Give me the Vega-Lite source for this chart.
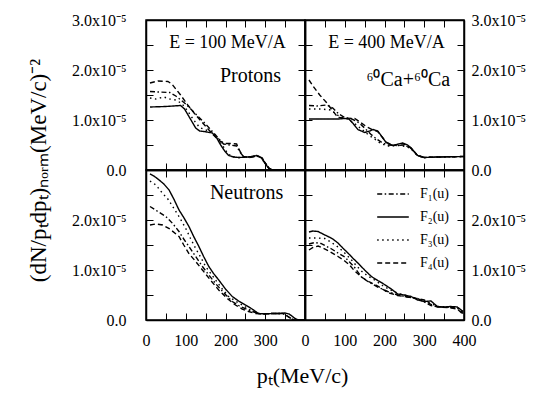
{
  "$schema": "https://vega.github.io/schema/vega-lite/v6.json",
  "background": "white",
  "padding": {"left": 26, "top": 11, "right": 5, "bottom": 5},
  "columns": 2,
  "spacing": 0,
  "bounds": "flush",
  "resolve": {"scale": {"strokeDash": "independent"}, "legend": {"strokeDash": "independent"}},
  "datasets": {
    "p100": [
      {"f":"F1","pt":10,"v":1.57e-5},{"f":"F1","pt":30,"v":1.56e-5},{"f":"F1","pt":60,"v":1.55e-5},{"f":"F1","pt":75,"v":1.48e-5},{"f":"F1","pt":100,"v":1.32e-5},{"f":"F1","pt":125,"v":1.12e-5},{"f":"F1","pt":150,"v":0.92e-5},{"f":"F1","pt":175,"v":0.70e-5},{"f":"F1","pt":195,"v":0.52e-5},{"f":"F1","pt":210,"v":0.50e-5},{"f":"F1","pt":228,"v":0.48e-5},{"f":"F1","pt":236,"v":0.36e-5},{"f":"F1","pt":245,"v":0.27e-5},{"f":"F1","pt":260,"v":0.25e-5},{"f":"F1","pt":279,"v":0.28e-5},{"f":"F1","pt":292,"v":0.24e-5},{"f":"F1","pt":300,"v":0.14e-5},{"f":"F1","pt":310,"v":0.03e-5},{"f":"F1","pt":318,"v":0},{"f":"F1","pt":400,"v":0},
      {"f":"F2","pt":10,"v":1.26e-5},{"f":"F2","pt":50,"v":1.27e-5},{"f":"F2","pt":87,"v":1.29e-5},{"f":"F2","pt":97,"v":1.22e-5},{"f":"F2","pt":108,"v":1.07e-5},{"f":"F2","pt":125,"v":0.84e-5},{"f":"F2","pt":135,"v":0.78e-5},{"f":"F2","pt":146,"v":0.77e-5},{"f":"F2","pt":167,"v":0.74e-5},{"f":"F2","pt":178,"v":0.64e-5},{"f":"F2","pt":187,"v":0.51e-5},{"f":"F2","pt":198,"v":0.38e-5},{"f":"F2","pt":208,"v":0.29e-5},{"f":"F2","pt":220,"v":0.26e-5},{"f":"F2","pt":233,"v":0.25e-5},{"f":"F2","pt":258,"v":0.26e-5},{"f":"F2","pt":279,"v":0.29e-5},{"f":"F2","pt":290,"v":0.25e-5},{"f":"F2","pt":296,"v":0.17e-5},{"f":"F2","pt":308,"v":0.04e-5},{"f":"F2","pt":315,"v":0},{"f":"F2","pt":400,"v":0},
      {"f":"F3","pt":10,"v":1.44e-5},{"f":"F3","pt":25,"v":1.42e-5},{"f":"F3","pt":45,"v":1.46e-5},{"f":"F3","pt":60,"v":1.42e-5},{"f":"F3","pt":75,"v":1.40e-5},{"f":"F3","pt":90,"v":1.33e-5},{"f":"F3","pt":105,"v":1.18e-5},{"f":"F3","pt":120,"v":1.00e-5},{"f":"F3","pt":135,"v":0.85e-5},{"f":"F3","pt":150,"v":0.80e-5},{"f":"F3","pt":167,"v":0.76e-5},{"f":"F3","pt":180,"v":0.64e-5},{"f":"F3","pt":190,"v":0.52e-5},{"f":"F3","pt":205,"v":0.34e-5},{"f":"F3","pt":215,"v":0.27e-5},{"f":"F3","pt":233,"v":0.25e-5},{"f":"F3","pt":258,"v":0.26e-5},{"f":"F3","pt":279,"v":0.29e-5},{"f":"F3","pt":292,"v":0.24e-5},{"f":"F3","pt":300,"v":0.14e-5},{"f":"F3","pt":310,"v":0.03e-5},{"f":"F3","pt":318,"v":0},{"f":"F3","pt":400,"v":0},
      {"f":"F4","pt":10,"v":1.74e-5},{"f":"F4","pt":30,"v":1.78e-5},{"f":"F4","pt":55,"v":1.77e-5},{"f":"F4","pt":65,"v":1.72e-5},{"f":"F4","pt":87,"v":1.50e-5},{"f":"F4","pt":105,"v":1.30e-5},{"f":"F4","pt":125,"v":1.10e-5},{"f":"F4","pt":145,"v":0.92e-5},{"f":"F4","pt":167,"v":0.72e-5},{"f":"F4","pt":185,"v":0.58e-5},{"f":"F4","pt":200,"v":0.53e-5},{"f":"F4","pt":215,"v":0.53e-5},{"f":"F4","pt":228,"v":0.52e-5},{"f":"F4","pt":236,"v":0.38e-5},{"f":"F4","pt":245,"v":0.27e-5},{"f":"F4","pt":260,"v":0.25e-5},{"f":"F4","pt":279,"v":0.28e-5},{"f":"F4","pt":292,"v":0.24e-5},{"f":"F4","pt":300,"v":0.14e-5},{"f":"F4","pt":310,"v":0.03e-5},{"f":"F4","pt":318,"v":0},{"f":"F4","pt":400,"v":0}
    ],
    "p400": [
      {"f":"F1","pt":10,"v":1.29e-5},{"f":"F1","pt":30,"v":1.28e-5},{"f":"F1","pt":55,"v":1.30e-5},{"f":"F1","pt":70,"v":1.24e-5},{"f":"F1","pt":85,"v":1.12e-5},{"f":"F1","pt":100,"v":1.05e-5},{"f":"F1","pt":115,"v":1.03e-5},{"f":"F1","pt":135,"v":0.95e-5},{"f":"F1","pt":150,"v":0.84e-5},{"f":"F1","pt":165,"v":0.72e-5},{"f":"F1","pt":180,"v":0.62e-5},{"f":"F1","pt":195,"v":0.54e-5},{"f":"F1","pt":210,"v":0.50e-5},{"f":"F1","pt":230,"v":0.49e-5},{"f":"F1","pt":250,"v":0.50e-5},{"f":"F1","pt":267,"v":0.43e-5},{"f":"F1","pt":283,"v":0.29e-5},{"f":"F1","pt":300,"v":0.25e-5},{"f":"F1","pt":333,"v":0.26e-5},{"f":"F1","pt":400,"v":0.27e-5},
      {"f":"F2","pt":10,"v":1.02e-5},{"f":"F2","pt":50,"v":1.02e-5},{"f":"F2","pt":83,"v":1.02e-5},{"f":"F2","pt":100,"v":1.03e-5},{"f":"F2","pt":110,"v":1.02e-5},{"f":"F2","pt":120,"v":0.94e-5},{"f":"F2","pt":133,"v":0.81e-5},{"f":"F2","pt":150,"v":0.75e-5},{"f":"F2","pt":163,"v":0.78e-5},{"f":"F2","pt":171,"v":0.81e-5},{"f":"F2","pt":183,"v":0.78e-5},{"f":"F2","pt":195,"v":0.65e-5},{"f":"F2","pt":204,"v":0.55e-5},{"f":"F2","pt":221,"v":0.49e-5},{"f":"F2","pt":235,"v":0.52e-5},{"f":"F2","pt":246,"v":0.54e-5},{"f":"F2","pt":258,"v":0.50e-5},{"f":"F2","pt":267,"v":0.44e-5},{"f":"F2","pt":283,"v":0.29e-5},{"f":"F2","pt":300,"v":0.25e-5},{"f":"F2","pt":333,"v":0.26e-5},{"f":"F2","pt":400,"v":0.27e-5},
      {"f":"F3","pt":10,"v":1.22e-5},{"f":"F3","pt":40,"v":1.22e-5},{"f":"F3","pt":65,"v":1.20e-5},{"f":"F3","pt":85,"v":1.08e-5},{"f":"F3","pt":105,"v":1.03e-5},{"f":"F3","pt":125,"v":0.93e-5},{"f":"F3","pt":145,"v":0.80e-5},{"f":"F3","pt":160,"v":0.70e-5},{"f":"F3","pt":175,"v":0.62e-5},{"f":"F3","pt":190,"v":0.53e-5},{"f":"F3","pt":210,"v":0.48e-5},{"f":"F3","pt":235,"v":0.49e-5},{"f":"F3","pt":255,"v":0.47e-5},{"f":"F3","pt":267,"v":0.42e-5},{"f":"F3","pt":283,"v":0.29e-5},{"f":"F3","pt":300,"v":0.25e-5},{"f":"F3","pt":333,"v":0.26e-5},{"f":"F3","pt":400,"v":0.27e-5},
      {"f":"F4","pt":10,"v":1.80e-5},{"f":"F4","pt":20,"v":1.68e-5},{"f":"F4","pt":37,"v":1.50e-5},{"f":"F4","pt":54,"v":1.35e-5},{"f":"F4","pt":70,"v":1.18e-5},{"f":"F4","pt":83,"v":1.05e-5},{"f":"F4","pt":100,"v":1.04e-5},{"f":"F4","pt":125,"v":1.03e-5},{"f":"F4","pt":140,"v":0.95e-5},{"f":"F4","pt":154,"v":0.87e-5},{"f":"F4","pt":171,"v":0.80e-5},{"f":"F4","pt":183,"v":0.77e-5},{"f":"F4","pt":195,"v":0.65e-5},{"f":"F4","pt":204,"v":0.56e-5},{"f":"F4","pt":221,"v":0.49e-5},{"f":"F4","pt":246,"v":0.53e-5},{"f":"F4","pt":267,"v":0.44e-5},{"f":"F4","pt":283,"v":0.29e-5},{"f":"F4","pt":300,"v":0.25e-5},{"f":"F4","pt":333,"v":0.26e-5},{"f":"F4","pt":400,"v":0.27e-5}
    ],
    "n100": [
      {"f":"F1","pt":10,"v":2.27e-5},{"f":"F1","pt":30,"v":2.17e-5},{"f":"F1","pt":50,"v":2.07e-5},{"f":"F1","pt":67,"v":1.93e-5},{"f":"F1","pt":83,"v":1.77e-5},{"f":"F1","pt":95,"v":1.62e-5},{"f":"F1","pt":108,"v":1.47e-5},{"f":"F1","pt":125,"v":1.27e-5},{"f":"F1","pt":142,"v":1.07e-5},{"f":"F1","pt":158,"v":0.90e-5},{"f":"F1","pt":175,"v":0.73e-5},{"f":"F1","pt":195,"v":0.55e-5},{"f":"F1","pt":217,"v":0.37e-5},{"f":"F1","pt":235,"v":0.28e-5},{"f":"F1","pt":258,"v":0.20e-5},{"f":"F1","pt":275,"v":0.15e-5},{"f":"F1","pt":290,"v":0.12e-5},{"f":"F1","pt":317,"v":0.13e-5},{"f":"F1","pt":345,"v":0.13e-5},{"f":"F1","pt":355,"v":0.08e-5},{"f":"F1","pt":365,"v":0.03e-5},{"f":"F1","pt":372,"v":0},{"f":"F1","pt":400,"v":0},
      {"f":"F2","pt":10,"v":2.92e-5},{"f":"F2","pt":20,"v":2.88e-5},{"f":"F2","pt":33,"v":2.80e-5},{"f":"F2","pt":45,"v":2.72e-5},{"f":"F2","pt":58,"v":2.60e-5},{"f":"F2","pt":70,"v":2.42e-5},{"f":"F2","pt":83,"v":2.20e-5},{"f":"F2","pt":95,"v":2.05e-5},{"f":"F2","pt":108,"v":1.87e-5},{"f":"F2","pt":120,"v":1.67e-5},{"f":"F2","pt":133,"v":1.47e-5},{"f":"F2","pt":145,"v":1.27e-5},{"f":"F2","pt":158,"v":1.07e-5},{"f":"F2","pt":170,"v":0.93e-5},{"f":"F2","pt":183,"v":0.80e-5},{"f":"F2","pt":200,"v":0.62e-5},{"f":"F2","pt":217,"v":0.47e-5},{"f":"F2","pt":233,"v":0.38e-5},{"f":"F2","pt":250,"v":0.30e-5},{"f":"F2","pt":267,"v":0.22e-5},{"f":"F2","pt":283,"v":0.13e-5},{"f":"F2","pt":300,"v":0.12e-5},{"f":"F2","pt":317,"v":0.13e-5},{"f":"F2","pt":335,"v":0.13e-5},{"f":"F2","pt":350,"v":0.14e-5},{"f":"F2","pt":360,"v":0.12e-5},{"f":"F2","pt":367,"v":0.08e-5},{"f":"F2","pt":375,"v":0.03e-5},{"f":"F2","pt":383,"v":0},{"f":"F2","pt":400,"v":0},
      {"f":"F3","pt":10,"v":2.78e-5},{"f":"F3","pt":25,"v":2.70e-5},{"f":"F3","pt":42,"v":2.53e-5},{"f":"F3","pt":55,"v":2.42e-5},{"f":"F3","pt":67,"v":2.27e-5},{"f":"F3","pt":83,"v":2.07e-5},{"f":"F3","pt":100,"v":1.83e-5},{"f":"F3","pt":112,"v":1.63e-5},{"f":"F3","pt":125,"v":1.43e-5},{"f":"F3","pt":138,"v":1.25e-5},{"f":"F3","pt":150,"v":1.07e-5},{"f":"F3","pt":163,"v":0.93e-5},{"f":"F3","pt":175,"v":0.80e-5},{"f":"F3","pt":192,"v":0.62e-5},{"f":"F3","pt":208,"v":0.47e-5},{"f":"F3","pt":225,"v":0.38e-5},{"f":"F3","pt":242,"v":0.30e-5},{"f":"F3","pt":258,"v":0.22e-5},{"f":"F3","pt":275,"v":0.15e-5},{"f":"F3","pt":290,"v":0.12e-5},{"f":"F3","pt":317,"v":0.13e-5},{"f":"F3","pt":345,"v":0.13e-5},{"f":"F3","pt":355,"v":0.08e-5},{"f":"F3","pt":365,"v":0.03e-5},{"f":"F3","pt":372,"v":0},{"f":"F3","pt":400,"v":0},
      {"f":"F4","pt":10,"v":1.90e-5},{"f":"F4","pt":25,"v":1.92e-5},{"f":"F4","pt":42,"v":1.90e-5},{"f":"F4","pt":60,"v":1.82e-5},{"f":"F4","pt":83,"v":1.67e-5},{"f":"F4","pt":95,"v":1.50e-5},{"f":"F4","pt":108,"v":1.33e-5},{"f":"F4","pt":125,"v":1.17e-5},{"f":"F4","pt":142,"v":1.00e-5},{"f":"F4","pt":162,"v":0.80e-5},{"f":"F4","pt":183,"v":0.60e-5},{"f":"F4","pt":203,"v":0.44e-5},{"f":"F4","pt":225,"v":0.30e-5},{"f":"F4","pt":242,"v":0.22e-5},{"f":"F4","pt":258,"v":0.17e-5},{"f":"F4","pt":275,"v":0.13e-5},{"f":"F4","pt":290,"v":0.12e-5},{"f":"F4","pt":317,"v":0.13e-5},{"f":"F4","pt":345,"v":0.13e-5},{"f":"F4","pt":355,"v":0.08e-5},{"f":"F4","pt":365,"v":0.03e-5},{"f":"F4","pt":372,"v":0},{"f":"F4","pt":400,"v":0}
    ],
    "n400": [
      {"f":"F1","pt":10,"v":1.52e-5},{"f":"F1","pt":25,"v":1.55e-5},{"f":"F1","pt":40,"v":1.53e-5},{"f":"F1","pt":67,"v":1.42e-5},{"f":"F1","pt":83,"v":1.34e-5},{"f":"F1","pt":100,"v":1.26e-5},{"f":"F1","pt":112,"v":1.16e-5},{"f":"F1","pt":125,"v":1.05e-5},{"f":"F1","pt":142,"v":0.86e-5},{"f":"F1","pt":160,"v":0.76e-5},{"f":"F1","pt":183,"v":0.66e-5},{"f":"F1","pt":208,"v":0.57e-5},{"f":"F1","pt":233,"v":0.50e-5},{"f":"F1","pt":258,"v":0.46e-5},{"f":"F1","pt":283,"v":0.43e-5},{"f":"F1","pt":300,"v":0.36e-5},{"f":"F1","pt":317,"v":0.29e-5},{"f":"F1","pt":340,"v":0.26e-5},{"f":"F1","pt":365,"v":0.25e-5},{"f":"F1","pt":383,"v":0.24e-5},{"f":"F1","pt":398,"v":0.13e-5},
      {"f":"F2","pt":10,"v":1.76e-5},{"f":"F2","pt":20,"v":1.78e-5},{"f":"F2","pt":33,"v":1.77e-5},{"f":"F2","pt":45,"v":1.72e-5},{"f":"F2","pt":58,"v":1.67e-5},{"f":"F2","pt":70,"v":1.62e-5},{"f":"F2","pt":83,"v":1.54e-5},{"f":"F2","pt":95,"v":1.44e-5},{"f":"F2","pt":108,"v":1.34e-5},{"f":"F2","pt":120,"v":1.24e-5},{"f":"F2","pt":133,"v":1.14e-5},{"f":"F2","pt":150,"v":1.00e-5},{"f":"F2","pt":167,"v":0.87e-5},{"f":"F2","pt":183,"v":0.79e-5},{"f":"F2","pt":200,"v":0.71e-5},{"f":"F2","pt":217,"v":0.62e-5},{"f":"F2","pt":233,"v":0.52e-5},{"f":"F2","pt":250,"v":0.50e-5},{"f":"F2","pt":267,"v":0.47e-5},{"f":"F2","pt":283,"v":0.40e-5},{"f":"F2","pt":300,"v":0.37e-5},{"f":"F2","pt":317,"v":0.38e-5},{"f":"F2","pt":333,"v":0.27e-5},{"f":"F2","pt":350,"v":0.26e-5},{"f":"F2","pt":367,"v":0.27e-5},{"f":"F2","pt":383,"v":0.26e-5},{"f":"F2","pt":398,"v":0.17e-5},
      {"f":"F3","pt":10,"v":1.64e-5},{"f":"F3","pt":30,"v":1.64e-5},{"f":"F3","pt":50,"v":1.63e-5},{"f":"F3","pt":65,"v":1.56e-5},{"f":"F3","pt":83,"v":1.46e-5},{"f":"F3","pt":100,"v":1.34e-5},{"f":"F3","pt":117,"v":1.20e-5},{"f":"F3","pt":130,"v":1.08e-5},{"f":"F3","pt":142,"v":0.98e-5},{"f":"F3","pt":158,"v":0.88e-5},{"f":"F3","pt":175,"v":0.80e-5},{"f":"F3","pt":195,"v":0.69e-5},{"f":"F3","pt":220,"v":0.58e-5},{"f":"F3","pt":240,"v":0.52e-5},{"f":"F3","pt":260,"v":0.48e-5},{"f":"F3","pt":283,"v":0.42e-5},{"f":"F3","pt":300,"v":0.38e-5},{"f":"F3","pt":317,"v":0.33e-5},{"f":"F3","pt":333,"v":0.27e-5},{"f":"F3","pt":360,"v":0.26e-5},{"f":"F3","pt":383,"v":0.25e-5},{"f":"F3","pt":398,"v":0.16e-5},
      {"f":"F4","pt":10,"v":1.40e-5},{"f":"F4","pt":20,"v":1.45e-5},{"f":"F4","pt":33,"v":1.48e-5},{"f":"F4","pt":45,"v":1.44e-5},{"f":"F4","pt":60,"v":1.38e-5},{"f":"F4","pt":83,"v":1.27e-5},{"f":"F4","pt":100,"v":1.18e-5},{"f":"F4","pt":112,"v":1.10e-5},{"f":"F4","pt":125,"v":0.98e-5},{"f":"F4","pt":142,"v":0.86e-5},{"f":"F4","pt":162,"v":0.76e-5},{"f":"F4","pt":183,"v":0.68e-5},{"f":"F4","pt":208,"v":0.55e-5},{"f":"F4","pt":233,"v":0.49e-5},{"f":"F4","pt":250,"v":0.47e-5},{"f":"F4","pt":275,"v":0.44e-5},{"f":"F4","pt":300,"v":0.40e-5},{"f":"F4","pt":317,"v":0.31e-5},{"f":"F4","pt":333,"v":0.26e-5},{"f":"F4","pt":360,"v":0.25e-5},{"f":"F4","pt":383,"v":0.22e-5},{"f":"F4","pt":398,"v":0.11e-5}
    ]
  },
  "concat": [
    {
      "width": 159, "height": 150,
      "resolve": {"axis": {"x": "independent", "y": "independent"}},
      "layer": [
        {
          "data": {"name": "p100"},
          "mark": {"type": "line", "color": "black", "strokeWidth": 1.4},
          "encoding": {
            "x": {"field": "pt", "type": "quantitative", "scale": {"domain": [0, 400], "nice": false, "zero": false},
                  "axis": {"orient": "bottom", "values": [0,50,100,150,200,250,300,350,400], "labels": false, "title": null}},
            "y": {"field": "v", "type": "quantitative", "scale": {"domain": [0, 3e-5], "nice": false},
                  "axis": {"orient": "left", "values": [0,0.5e-5,1e-5,1.5e-5,2e-5,2.5e-5,3e-5], "labelPadding": 27, "labelFont": "Liberation Serif", "labelFontSize": 16,
                           "labelExpr": "round(datum.value*1e6) == 0 ? '0.0' : (round(datum.value*1e6) % 10 == 0 ? format(round(datum.value*1e6)/10, '.1f') + 'x10⁻⁵' : '')",
                           "title": "(dN/pₜdpₜ)ₙₒᵣₘ(MeV/c)⁻²", "titleX": -108, "titleY": 150, "titleAngle": -90, "titleAlign": "center", "titleBaseline": "middle", "titleFontSize": 23, "titleFont": "Liberation Serif"}},
            "strokeDash": {"field": "f", "type": "nominal", "scale": {"domain": ["F1","F2","F3","F4"], "range": [[5,2.5,1.5,2.5],[1,0],[1.5,3.5],[5,3]]}, "legend": null}
          }
        },
        {
          "data": {"values": []},
          "mark": {"type": "point", "opacity": 0},
          "encoding": {
            "x": {"field": "pt", "type": "quantitative", "axis": {"orient": "top", "values": [0,50,100,150,200,250,300,350,400], "labels": false, "title": null}},
            "y": {"field": "v", "type": "quantitative", "axis": {"orient": "right", "values": [0,0.5e-5,1e-5,1.5e-5,2e-5,2.5e-5,3e-5], "labels": false, "title": null}}
          }
        },
        {
          "data": {"values": [{"pt": 205, "v": 2.54e-5, "txt": "E = 100 MeV/A"}]},
          "mark": {"type": "text", "fontSize": 18, "font": "Liberation Serif", "color": "black"},
          "encoding": {"x": {"field": "pt", "type": "quantitative", "axis": null}, "y": {"field": "v", "type": "quantitative", "axis": null}, "text": {"field": "txt"}}
        },
        {
          "data": {"values": [{"pt": 263, "v": 1.88e-5, "txt": "Protons"}]},
          "mark": {"type": "text", "fontSize": 20, "font": "Liberation Serif", "color": "black"},
          "encoding": {"x": {"field": "pt", "type": "quantitative", "axis": null}, "y": {"field": "v", "type": "quantitative", "axis": null}, "text": {"field": "txt"}}
        }
      ]
    },
    {
      "width": 159, "height": 150,
      "resolve": {"axis": {"x": "independent", "y": "independent"}},
      "layer": [
        {
          "data": {"name": "p400"},
          "mark": {"type": "line", "color": "black", "strokeWidth": 1.4},
          "encoding": {
            "x": {"field": "pt", "type": "quantitative", "scale": {"domain": [0, 400], "nice": false, "zero": false},
                  "axis": {"orient": "bottom", "values": [0,50,100,150,200,250,300,350,400], "labels": false, "title": null}},
            "y": {"field": "v", "type": "quantitative", "scale": {"domain": [0, 3e-5], "nice": false},
                  "axis": {"orient": "right", "values": [0,0.5e-5,1e-5,1.5e-5,2e-5,2.5e-5,3e-5], "labelPadding": 14, "labelAlign": "left", "labelFont": "Liberation Serif", "labelFontSize": 16,
                           "labelExpr": "round(datum.value*1e6) == 0 ? '0.0' : (round(datum.value*1e6) % 10 == 0 ? format(round(datum.value*1e6)/10, '.1f') + 'x10⁻⁵' : '')",
                           "title": null}},
            "strokeDash": {"field": "f", "type": "nominal", "scale": {"domain": ["F1","F2","F3","F4"], "range": [[5,2.5,1.5,2.5],[1,0],[1.5,3.5],[5,3]]}, "legend": null}
          }
        },
        {
          "data": {"values": []},
          "mark": {"type": "point", "opacity": 0},
          "encoding": {
            "x": {"field": "pt", "type": "quantitative", "axis": {"orient": "top", "values": [0,50,100,150,200,250,300,350,400], "labels": false, "title": null}},
            "y": {"field": "v", "type": "quantitative", "axis": {"orient": "left", "values": [0,0.5e-5,1e-5,1.5e-5,2e-5,2.5e-5,3e-5], "labels": false, "title": null}}
          }
        },
        {
          "data": {"values": [{"pt": 205, "v": 2.54e-5, "txt": "E = 400 MeV/A"}]},
          "mark": {"type": "text", "fontSize": 18, "font": "Liberation Serif", "color": "black"},
          "encoding": {"x": {"field": "pt", "type": "quantitative", "axis": null}, "y": {"field": "v", "type": "quantitative", "axis": null}, "text": {"field": "txt"}}
        },
        {
          "data": {"values": [{"pt": 260, "v": 1.80e-5, "txt": "⁶⁰Ca+⁶⁰Ca"}]},
          "mark": {"type": "text", "fontSize": 20, "font": "Liberation Serif", "color": "black"},
          "encoding": {"x": {"field": "pt", "type": "quantitative", "axis": null}, "y": {"field": "v", "type": "quantitative", "axis": null}, "text": {"field": "txt"}}
        }
      ]
    },
    {
      "width": 159, "height": 150,
      "resolve": {"axis": {"x": "independent", "y": "independent"}},
      "layer": [
        {
          "data": {"name": "n100"},
          "mark": {"type": "line", "color": "black", "strokeWidth": 1.4},
          "encoding": {
            "x": {"field": "pt", "type": "quantitative", "scale": {"domain": [0, 400], "nice": false, "zero": false},
                  "axis": {"orient": "bottom", "values": [0,50,100,150,200,250,300,350,400], "labelPadding": 19, "labelFont": "Liberation Serif", "labelFontSize": 16,
                           "labelExpr": "datum.value % 100 == 0 && datum.value < 400 ? datum.label : ''",
                           "title": "pₜ(MeV/c)", "titleX": 156, "titleY": 55, "titleAlign": "center", "titleBaseline": "middle", "titleFontSize": 22, "titleFont": "Liberation Serif"}},
            "y": {"field": "v", "type": "quantitative", "scale": {"domain": [0, 3e-5], "nice": false},
                  "axis": {"orient": "left", "values": [0,0.5e-5,1e-5,1.5e-5,2e-5,2.5e-5,3e-5], "labelPadding": 27, "labelFont": "Liberation Serif", "labelFontSize": 16,
                           "labelExpr": "round(datum.value*1e6) == 0 ? '0.0' : (round(datum.value*1e6) % 10 == 0 && round(datum.value*1e6) < 30 ? format(round(datum.value*1e6)/10, '.1f') + 'x10⁻⁵' : '')",
                           "title": null}},
            "strokeDash": {"field": "f", "type": "nominal", "scale": {"domain": ["F1","F2","F3","F4"], "range": [[5,2.5,1.5,2.5],[1,0],[1.5,3.5],[5,3]]}, "legend": null}
          }
        },
        {
          "data": {"values": []},
          "mark": {"type": "point", "opacity": 0},
          "encoding": {
            "x": {"field": "pt", "type": "quantitative", "axis": {"orient": "top", "values": [0,50,100,150,200,250,300,350,400], "labels": false, "title": null}},
            "y": {"field": "v", "type": "quantitative", "axis": {"orient": "right", "values": [0,0.5e-5,1e-5,1.5e-5,2e-5,2.5e-5,3e-5], "labels": false, "title": null}}
          }
        },
        {
          "data": {"values": [{"pt": 253, "v": 2.54e-5, "txt": "Neutrons"}]},
          "mark": {"type": "text", "fontSize": 20, "font": "Liberation Serif", "color": "black"},
          "encoding": {"x": {"field": "pt", "type": "quantitative", "axis": null}, "y": {"field": "v", "type": "quantitative", "axis": null}, "text": {"field": "txt"}}
        }
      ]
    },
    {
      "width": 159, "height": 150,
      "resolve": {"axis": {"x": "independent", "y": "independent"}},
      "layer": [
        {
          "data": {"name": "n400"},
          "mark": {"type": "line", "color": "black", "strokeWidth": 1.4},
          "encoding": {
            "x": {"field": "pt", "type": "quantitative", "scale": {"domain": [0, 400], "nice": false, "zero": false},
                  "axis": {"orient": "bottom", "values": [0,50,100,150,200,250,300,350,400], "labelPadding": 19, "labelFont": "Liberation Serif", "labelFontSize": 16,
                           "labelExpr": "datum.value % 100 == 0 ? datum.label : ''", "title": null}},
            "y": {"field": "v", "type": "quantitative", "scale": {"domain": [0, 3e-5], "nice": false},
                  "axis": {"orient": "right", "values": [0,0.5e-5,1e-5,1.5e-5,2e-5,2.5e-5,3e-5], "labelPadding": 14, "labelAlign": "left", "labelFont": "Liberation Serif", "labelFontSize": 16,
                           "labelExpr": "round(datum.value*1e6) == 0 ? '0.0' : (round(datum.value*1e6) % 10 == 0 && round(datum.value*1e6) < 30 ? format(round(datum.value*1e6)/10, '.1f') + 'x10⁻⁵' : '')",
                           "title": null}},
            "strokeDash": {"field": "f", "type": "nominal", "scale": {"domain": ["F1","F2","F3","F4"], "range": [[5,2.5,1.5,2.5],[1,0],[1.5,3.5],[5,3]]},
                           "legend": {"orient": "none", "legendX": 71, "legendY": 15, "title": null, "padding": 0,
                                      "symbolType": "stroke", "symbolSize": 1000, "symbolStrokeWidth": 1.4, "symbolStrokeColor": "black",
                                      "clipHeight": 18, "rowPadding": 5, "labelOffset": 10, "labelFontSize": 14, "labelFont": "Liberation Serif", "labelColor": "black",
                                      "labelExpr": "'F' + (datum.label == 'F1' ? '₁' : datum.label == 'F2' ? '₂' : datum.label == 'F3' ? '₃' : '₄') + '(u)'"}}
          }
        },
        {
          "data": {"values": []},
          "mark": {"type": "point", "opacity": 0},
          "encoding": {
            "x": {"field": "pt", "type": "quantitative", "axis": {"orient": "top", "values": [0,50,100,150,200,250,300,350,400], "labels": false, "title": null}},
            "y": {"field": "v", "type": "quantitative", "axis": {"orient": "left", "values": [0,0.5e-5,1e-5,1.5e-5,2e-5,2.5e-5,3e-5], "labels": false, "title": null}}
          }
        }
      ]
    }
  ],
  "config": {
    "view": {"stroke": "black", "strokeWidth": 1.5},
    "font": "Liberation Serif",
    "axis": {"grid": false, "domain": true, "domainColor": "black", "domainWidth": 1.5, "ticks": true, "tickColor": "black", "tickWidth": 1, "tickSize": -7,
             "labelColor": "black", "labelFont": "Liberation Serif", "labelFontSize": 16, "labelFlush": false, "labelOverlap": false,
             "titleFont": "Liberation Serif", "titleColor": "black", "titleFontWeight": "normal"}
  }
}
